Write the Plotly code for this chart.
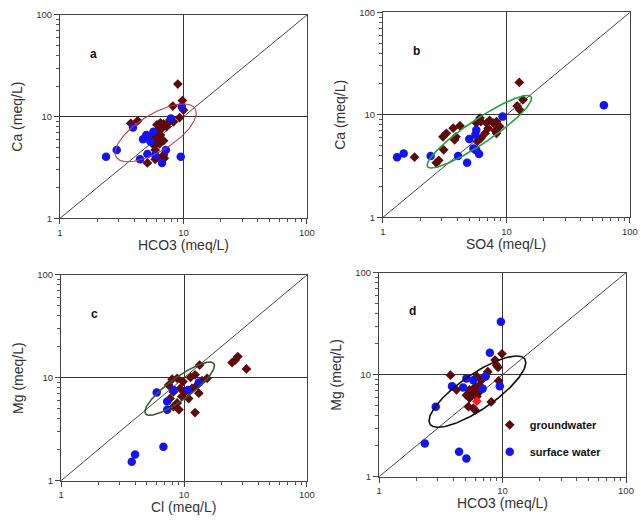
import numpy as np
import plotly.graph_objects as go

# ---------------- data (meq/L) ----------------
# panel a: HCO3 vs Ca
gw_a_x = [9.0, 9.8, 8.2, 10.0, 3.74, 4.26, 9.3, 8.3, 6.1, 6.5, 6.9, 7.3, 6.7, 6.1, 5.7, 6.5,
          6.1, 5.5, 6.9, 6.4, 5.9, 6.9, 6.1, 7.0, 5.9, 5.1, 5.8, 7.5, 7.8]
gw_a_y = [20.9, 14.4, 12.7, 11.6, 8.6, 9.1, 9.8, 8.9, 8.3, 8.7, 8.5, 8.0, 7.7, 7.1, 6.6, 6.6,
          6.0, 5.9, 5.8, 5.4, 4.7, 4.2, 4.0, 3.9, 3.8, 3.5, 5.2, 8.7, 9.3]
sw_a_x = [9.7, 7.9, 5.7, 3.9, 5.0, 4.7, 5.4, 2.88, 2.36, 4.45, 5.1, 6.7, 7.2, 9.5, 5.9]
sw_a_y = [12.5, 9.6, 7.1, 7.8, 6.6, 6.0, 5.7, 4.7, 4.04, 3.8, 4.3, 3.5, 4.7, 4.04, 4.2]

# panel b: SO4 vs Ca
gw_b_x = [12.7, 13.6, 12.2, 12.8, 3.06, 3.26, 3.7, 4.2, 3.9, 3.8, 3.1, 2.83, 2.7, 1.8, 5.7,
          6.1, 6.2, 6.9, 7.3, 7.8, 8.3, 8.8, 8.1, 8.3, 6.7, 6.2, 5.8, 7.1]
gw_b_y = [20.7, 14.0, 12.2, 11.2, 6.1, 6.6, 7.4, 7.8, 6.1, 5.7, 4.55, 3.6, 3.4, 3.86, 8.3,
          9.3, 8.6, 8.3, 8.8, 8.3, 8.6, 7.7, 7.0, 6.6, 6.6, 5.9, 5.5, 7.4]
sw_b_x = [61.5, 9.3, 5.7, 5.6, 5.0, 5.4, 5.7, 6.0, 4.05, 4.8, 2.43, 1.47, 1.3]
sw_b_y = [12.4, 9.6, 7.1, 6.4, 5.8, 4.7, 4.5, 4.15, 3.97, 3.4, 3.97, 4.2, 3.86]

# panel c: Cl vs Mg
gw_c_x = [27.4, 26.1, 24.6, 32.2, 13.4, 13.2, 12.3, 8.0, 8.8, 9.8, 11.3, 12.3, 14.0, 15.4,
          7.5, 8.2, 9.3, 10.2, 10.9, 9.6, 8.8, 8.2, 9.1, 11.6, 7.7, 12.8]
gw_c_y = [16.1, 14.9, 14.1, 12.2, 13.3, 7.1, 4.6, 9.7, 9.9, 9.2, 10.1, 10.7, 9.4, 9.9,
          8.5, 7.3, 7.9, 7.3, 6.3, 6.6, 5.7, 5.25, 4.9, 7.9, 6.3, 8.5]
sw_c_x = [13.2, 10.8, 8.2, 6.0, 7.3, 7.3, 6.8, 4.0, 3.76]
sw_c_y = [9.0, 7.6, 7.6, 7.2, 5.9, 4.9, 2.14, 1.8, 1.53]

# panel d: HCO3 vs Mg
gw_d_x = [9.9, 8.7, 8.95, 9.2, 3.79, 4.24, 7.6, 7.2, 6.75, 6.2, 6.5, 6.0, 5.4, 5.8, 5.1,
          5.4, 6.2, 5.3, 5.8, 6.0, 8.1, 9.3, 6.5, 6.2, 6.2]
gw_d_y = [16.0, 13.9, 12.4, 11.8, 9.9, 7.1, 10.7, 9.6, 8.8, 9.6, 7.9, 7.6, 7.1, 6.6, 6.3,
          5.9, 6.1, 4.85, 4.7, 4.5, 5.4, 8.7, 6.8, 6.8, 5.5]
sw_d_x = [9.7, 7.9, 9.5, 7.3, 5.1, 5.8, 4.8, 3.9, 6.9, 2.88, 2.35, 4.45, 5.1]
sw_d_y = [33.1, 16.4, 7.7, 9.6, 9.2, 8.8, 7.5, 7.7, 7.3, 4.85, 2.12, 1.76, 1.51]

x_titles = ["HCO3 (meq/L)", "SO4 (meq/L)", "Cl (meq/L)", "HCO3 (meq/L)"]
y_titles = ["Ca (meq/L)", "Ca (meq/L)", "Mg (meq/L)", "Mg (meq/L)"]
panel_letters = ["a", "b", "c", "d"]
tick_vals = [1, 10, 100]
tick_text = ["1", "10", "100"]
minor_vals = [2, 3, 4, 5, 6, 7, 8, 9, 20, 30, 40, 50, 60, 70, 80, 90]
legend_names = ["groundwater", "surface water"]

# ellipse params in log10 space: (center u, center v, semi-major, semi-minor, angle deg)
ellipses = [
    (0.775, 0.84, 0.40, 0.17, 39),
    (0.78, 0.835, 0.54, 0.11, 39.5),
    (0.965, 0.895, 0.37, 0.10, 42),
    (0.797, 0.834, 0.50, 0.16, 41),
]
ellipse_colors = ["#b5404a", "#1fa33a", "#3e5a2c", "#111111"]

GW_COLOR = "#5e0b0b"
SW_COLOR = "#1414f0"
FONT = "Liberation Sans, Arial, sans-serif"

# subplot domains (paper fractions)
x_domains = [[0.0936, 0.4789], [0.5975, 0.9828], [0.0952, 0.4789], [0.5913, 0.9766]]
y_domains = [[0.5834, 0.9714], [0.5853, 0.9765], [0.0826, 0.4752], [0.0903, 0.4796]]

panels = [
    (gw_a_x, gw_a_y, sw_a_x, sw_a_y),
    (gw_b_x, gw_b_y, sw_b_x, sw_b_y),
    (gw_c_x, gw_c_y, sw_c_x, sw_c_y),
    (gw_d_x, gw_d_y, sw_d_x, sw_d_y),
]

fig = go.Figure()
layout = {}
annotations = []

for i, (gx, gy, sx, sy) in enumerate(panels):
    n = "" if i == 0 else str(i + 1)
    xa, ya = "x" + n, "y" + n
    # 1:1 line
    fig.add_trace(go.Scatter(x=[1, 100], y=[1, 100], mode="lines", xaxis=xa, yaxis=ya,
                             line=dict(color="#444444", width=1), showlegend=False,
                             hoverinfo="skip"))
    last = i == 3
    gcolors = GW_COLOR
    if last:
        gcolors = [GW_COLOR] * (len(gx) - 1) + ["#ff1a1a"]
    fig.add_trace(go.Scatter(x=gx, y=gy, mode="markers", xaxis=xa, yaxis=ya,
                             name=legend_names[0], legendgroup="gw", showlegend=last,
                             marker=dict(symbol="diamond", size=7.5, color=gcolors,
                                         line=dict(width=0))))
    fig.add_trace(go.Scatter(x=sx, y=sy, mode="markers", xaxis=xa, yaxis=ya,
                             name=legend_names[1], legendgroup="sw", showlegend=last,
                             marker=dict(symbol="circle", size=8.5, color=SW_COLOR,
                                         line=dict(width=0))))
    u0, v0, a, b, ang = ellipses[i]
    t = np.linspace(0, 2 * np.pi, 240)
    th = np.deg2rad(ang)
    u = u0 + a * np.cos(t) * np.cos(th) - b * np.sin(t) * np.sin(th)
    v = v0 + a * np.cos(t) * np.sin(th) + b * np.sin(t) * np.cos(th)
    fig.add_trace(go.Scatter(x=10 ** u, y=10 ** v, mode="lines", xaxis=xa, yaxis=ya,
                             line=dict(color=ellipse_colors[i], width=1.6 if i else 1.1),
                             showlegend=False, hoverinfo="skip"))

    common = dict(type="log", range=[0, 2], tickvals=tick_vals, ticktext=tick_text,
                  ticks="outside", ticklen=5, tickcolor="#444444", showline=True,
                  linecolor="#444444", linewidth=1, mirror=True, showgrid=True,
                  gridcolor="#333333", gridwidth=1, zeroline=False, automargin=False,
                  tickfont=dict(size=9.5, color="#333333", family=FONT),
                  minor=dict(tickvals=minor_vals, ticks="outside", ticklen=3,
                             tickcolor="#555555", showgrid=False),
                  fixedrange=True)
    layout["xaxis" + n] = dict(common, domain=x_domains[i], anchor=ya)
    layout["yaxis" + n] = dict(common, domain=y_domains[i], anchor=xa)

    xd, yd = x_domains[i], y_domains[i]
    annotations.append(dict(text=x_titles[i], xref="paper", yref="paper",
                            x=(xd[0] + xd[1]) / 2, y=yd[0] - 0.051, xanchor="center",
                            yanchor="middle", showarrow=False,
                            font=dict(size=14, color="#333333", family=FONT)))
    annotations.append(dict(text=y_titles[i], xref="paper", yref="paper",
                            x=xd[0] - 0.067, y=(yd[0] + yd[1]) / 2, xanchor="center",
                            yanchor="middle", textangle=-90, showarrow=False,
                            font=dict(size=14, color="#333333", family=FONT)))
    annotations.append(dict(text="<b>%s</b>" % panel_letters[i], xref=xa + " domain",
                            yref=ya + " domain", x=0.135, y=0.81, xanchor="center",
                            yanchor="middle", showarrow=False,
                            font=dict(size=12, color="#111111", family=FONT)))

fig.update_layout(
    width=641, height=524,
    margin=dict(l=0, r=0, t=0, b=0, autoexpand=False),
    paper_bgcolor="white", plot_bgcolor="white",
    font=dict(family=FONT, color="#333333"),
    annotations=annotations,
    legend=dict(x=0.764, y=0.217, xanchor="left", yanchor="top",
                bgcolor="rgba(0,0,0,0)", traceorder="grouped", tracegroupgap=8,
                font=dict(size=11, color="#111111", family=FONT, weight="bold")),
    **layout,
)

fig.write_html("out.html", config={"displayModeBar": False},
               post_script="document.body.style.margin='0';document.body.style.overflow='hidden';")
